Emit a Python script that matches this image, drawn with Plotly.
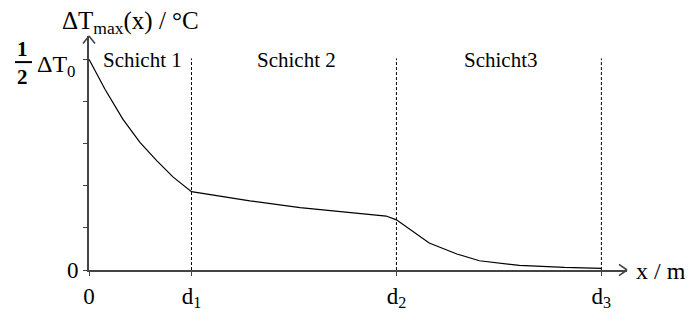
import plotly.graph_objects as go

# ---- data (x in units where d1=1, d2=3, d3=5; y in units of ΔT0) ----
curve_x = [0.0, 0.156, 0.33, 0.497, 0.663, 0.819, 1.0, 1.18, 1.57, 2.06, 2.54, 2.90, 3.0,
           3.15, 3.32, 3.59, 3.81, 4.20, 4.64, 5.0]
curve_y = [0.5, 0.429, 0.358, 0.303, 0.259, 0.221, 0.186, 0.179, 0.164, 0.148, 0.137, 0.128,
           0.119, 0.093, 0.064, 0.038, 0.022, 0.011, 0.006, 0.004]
layer_bounds = [1, 3, 5]
layer_names = ["Schicht 1", "Schicht 2", "Schicht3"]
layer_label_x = [0.52, 2.02, 4.02]
x_tickvals = [0, 1, 3, 5]
x_ticktext = ["0", "d<sub>1</sub>", "d<sub>2</sub>", "d<sub>3</sub>"]
y_tickvals = [0, 0.1, 0.2, 0.3, 0.4, 0.5]
y_ticktext = ["0", "", "", "", "", ""]

X_MAX = 5.25
Y_MAX = 0.5553
FONT = "'Liberation Serif', 'DejaVu Serif', serif"
AXC = "#444444"
PW, PH = 538, 251  # plot area size in px

fig = go.Figure()
fig.add_trace(go.Scatter(x=curve_x, y=curve_y, mode="lines",
                         line=dict(color="black", width=1.2), hoverinfo="skip"))

shapes = []
for d in layer_bounds:
    shapes.append(dict(type="line", xref="x", yref="y", x0=d, x1=d, y0=-0.012, y1=0.502,
                       line=dict(color="black", width=1, dash="3px,2px")))
# fraction bar for 1/2
shapes.append(dict(type="line", xref="paper", yref="paper",
                   x0=(15 - 89) / PW, x1=(32 - 89) / PW, y0=(287 - 64) / PH, y1=(287 - 64) / PH,
                   line=dict(color="black", width=2)))
# open chevron arrowheads at the axis ends (two strokes each)
for sgn in (1, -1):
    shapes.append(dict(type="line", xref="paper", yref="paper",
                       x0=1 - 8 / PW, y0=sgn * 6 / PH, x1=1.0, y1=0.0,
                       line=dict(color=AXC, width=1.6)))
    shapes.append(dict(type="line", xref="paper", yref="paper",
                       x0=sgn * 6 / PW, y0=1 - 8 / PH, x1=0.0, y1=1.0,
                       line=dict(color=AXC, width=1.6)))

annotations = []
for name, lx in zip(layer_names, layer_label_x):
    annotations.append(dict(x=lx, y=0.498, xref="x", yref="y", text=name, showarrow=False,
                            font=dict(family=FONT, size=21, color="black"),
                            xanchor="center", yanchor="middle"))
# axis titles
annotations.append(dict(x=(60 - 89) / PW, y=(287 - 22) / PH, xref="paper", yref="paper",
                        text="ΔT<sub>max</sub>(x) / °C", showarrow=False, xanchor="left", yanchor="middle",
                        font=dict(family=FONT, size=25, color="black")))
annotations.append(dict(x=(634 - 89) / PW, y=(287 - 288) / PH, xref="paper", yref="paper",
                        text="x / m", showarrow=False, xanchor="left", yanchor="middle",
                        font=dict(family=FONT, size=24, color="black")))
# 1/2 ΔT0 label
annotations.append(dict(x=(22 - 89) / PW, y=(287 - 50) / PH, xref="paper", yref="paper",
                        text="<b>1</b>", showarrow=False, xanchor="center", yanchor="middle",
                        font=dict(family=FONT, size=21, color="black")))
annotations.append(dict(x=(22 - 89) / PW, y=(287 - 80) / PH, xref="paper", yref="paper",
                        text="<b>2</b>", showarrow=False, xanchor="center", yanchor="middle",
                        font=dict(family=FONT, size=21, color="black")))
annotations.append(dict(x=(35 - 89) / PW, y=(287 - 68) / PH, xref="paper", yref="paper",
                        text="ΔT<sub>0</sub>", showarrow=False, xanchor="left", yanchor="middle",
                        font=dict(family=FONT, size=24, color="black")))

fig.update_layout(
    width=691, height=323,
    margin=dict(l=89, r=64, t=36, b=36, pad=0),
    paper_bgcolor="white", plot_bgcolor="white",
    showlegend=False,
    font=dict(family=FONT),
    shapes=shapes, annotations=annotations,
    xaxis=dict(range=[0, X_MAX], showgrid=False, zeroline=False, showline=True, linecolor=AXC,
               linewidth=2, tickmode="array", tickvals=x_tickvals, ticktext=x_ticktext,
               ticks="outside", ticklen=4, tickcolor=AXC, tickwidth=1,
               tickfont=dict(family=FONT, size=23, color="black"), fixedrange=True),
    yaxis=dict(range=[0, Y_MAX], showgrid=False, zeroline=False, showline=True, linecolor=AXC,
               linewidth=2, tickmode="array", tickvals=y_tickvals, ticktext=y_ticktext,
               ticks="outside", ticklen=4, tickcolor=AXC, tickwidth=1,
               tickfont=dict(family=FONT, size=23, color="black"), fixedrange=True),
)

fig.write_html("out.html")
